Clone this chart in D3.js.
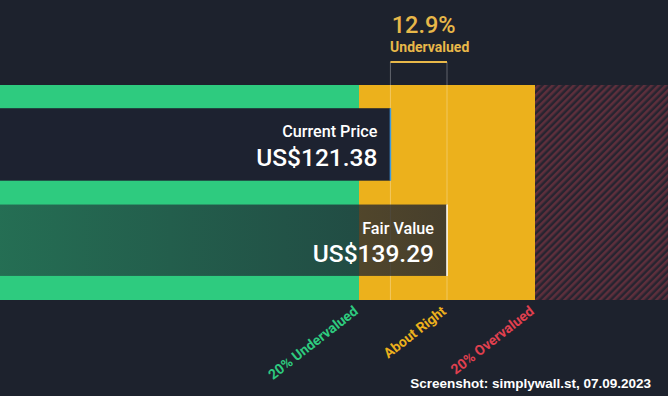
<!DOCTYPE html>
<html><head><meta charset="utf-8">
<script src="https://cdn.jsdelivr.net/npm/d3@7"></script>
<style>html,body{margin:0;padding:0;background:#1d222d;}svg{display:block;font-family:Roboto,"Noto Sans",sans-serif;}</style>
</head><body><div id="c"></div>
<script>
const currentPrice = 121.38;
const fairValue = 139.29;
const currency = "US$";
const diffLabel = "12.9%";
const diffText = "Undervalued";
const zoneNames = ["20% Undervalued", "About Right", "20% Overvalued"];
const zoneColors = ["#2ecb7f", "#ecb11c", "#e0404f"];
const footer = "Screenshot: simplywall.st, 07.09.2023";

const W = 668, H = 396;
const svg = d3.select("#c").append("svg").attr("width", W).attr("height", H);
svg.append("rect").attr("width", W).attr("height", H).attr("fill", "#1d222d");

const x = d3.scaleLinear().domain([0, fairValue * 1.2]).range([7, 535]);
const y = d3.scaleLinear().domain([0, 1]).range([85, 300]);

const defs = svg.append("defs");
const pat = defs.append("pattern").attr("id", "hatch").attr("patternUnits", "userSpaceOnUse")
  .attr("width", 5).attr("height", 5).attr("patternTransform", "rotate(45)");
pat.append("rect").attr("width", 5).attr("height", 5).attr("fill", "#272430");
pat.append("rect").attr("width", 2.5).attr("height", 5).attr("fill", "#5e2f3c");

const grad = defs.append("linearGradient").attr("id", "fvg").attr("x1", 0).attr("x2", 1).attr("y1", 0).attr("y2", 0);
grad.append("stop").attr("offset", 0).attr("stop-color", "#1d2230").attr("stop-opacity", 0.55);
grad.append("stop").attr("offset", 1).attr("stop-color", "#1d2230").attr("stop-opacity", 0.8);

const zones = [
  {x0: 0, x1: x(fairValue * 0.8), fill: zoneColors[0]},
  {x0: x(fairValue * 0.8), x1: x(fairValue * 1.2), fill: zoneColors[1]},
  {x0: x(fairValue * 1.2), x1: W, fill: "url(#hatch)"}
];
svg.selectAll("rect.zone").data(zones).join("rect").attr("class", "zone")
  .attr("x", d => d.x0).attr("width", d => d.x1 - d.x0)
  .attr("y", y(0)).attr("height", y(1) - y(0)).attr("fill", d => d.fill);

// bracket lines
[currentPrice, fairValue].forEach(v => {
  svg.append("line").attr("x1", x(v)).attr("x2", x(v)).attr("y1", 62).attr("y2", y(1))
    .attr("stroke", "#ffffff").attr("stroke-opacity", 0.3).attr("stroke-width", 1);
});
svg.append("line").attr("x1", x(currentPrice)).attr("x2", x(fairValue)).attr("y1", 62).attr("y2", 62)
  .attr("stroke", "#e8b849").attr("stroke-width", 2);

// current price bar
const cpY0 = y(0.108), cpY1 = y(0.445);
svg.append("rect").attr("x", 0).attr("y", cpY0).attr("width", x(currentPrice)).attr("height", cpY1 - cpY0).attr("fill", "#1d2230");
svg.append("line").attr("x1", x(currentPrice)).attr("x2", x(currentPrice)).attr("y1", cpY0).attr("y2", cpY1)
  .attr("stroke", "#3d9be0").attr("stroke-width", 1.5);
// fair value bar
const fvY0 = y(0.556), fvY1 = y(0.888);
svg.append("rect").attr("x", 0).attr("y", fvY0).attr("width", x(fairValue)).attr("height", fvY1 - fvY0).attr("fill", "url(#fvg)");
svg.append("line").attr("x1", x(fairValue)).attr("x2", x(fairValue)).attr("y1", fvY0).attr("y2", fvY1)
  .attr("stroke", "#ffffff").attr("stroke-width", 1.5);

// labels
svg.append("text").attr("x", x(currentPrice) - 13).attr("y", 137).attr("text-anchor", "end")
  .attr("fill", "#fff").attr("font-size", 16.2).attr("font-weight", 500).text("Current Price");
svg.append("text").attr("x", x(currentPrice) - 13).attr("y", 166).attr("text-anchor", "end")
  .attr("fill", "#fff").attr("font-size", 24.5).attr("font-weight", 500).text(currency + currentPrice.toFixed(2));
svg.append("text").attr("x", x(fairValue) - 13).attr("y", 234).attr("text-anchor", "end")
  .attr("fill", "#fff").attr("font-size", 16.2).attr("font-weight", 500).text("Fair Value");
svg.append("text").attr("x", x(fairValue) - 13).attr("y", 262).attr("text-anchor", "end")
  .attr("fill", "#fff").attr("font-size", 24.5).attr("font-weight", 500).text(currency + fairValue.toFixed(2));

const mid = (x(currentPrice) + x(fairValue)) / 2;
svg.append("text").attr("x", mid + 5).attr("y", 33).attr("text-anchor", "middle")
  .attr("fill", "#e8b849").attr("font-size", 23.5).attr("font-weight", 500).text(diffLabel);
svg.append("text").attr("x", mid + 11).attr("y", 52).attr("text-anchor", "middle")
  .attr("fill", "#e8b849").attr("font-size", 14).attr("font-weight", 700).text(diffText);

// zone labels
const labelPos = [x(fairValue * 0.8), x(fairValue), x(fairValue * 1.2)];
const labelCols = ["#2ecb7f", "#ecb11c", "#e0404f"];
zoneNames.forEach((n, i) => {
  svg.append("text").attr("transform", `translate(${labelPos[i]},${y(1) + 13}) rotate(-38)`)
    .attr("text-anchor", "end").attr("fill", labelCols[i]).attr("font-size", 14).attr("font-weight", 700).text(n);
});

svg.append("text").attr("x", 651).attr("y", 388).attr("text-anchor", "end")
  .attr("fill", "#fff").attr("font-size", 13.5).attr("font-weight", 700)
  .attr("font-family", "'Liberation Sans', Arial, sans-serif").text(footer);
</script></body></html>
